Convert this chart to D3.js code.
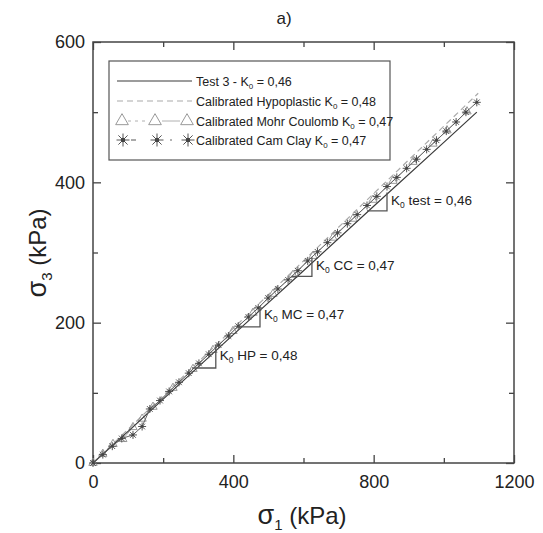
<!DOCTYPE html>
<html>
<head>
<script src="https://cdn.jsdelivr.net/npm/d3@7"></script>
<style>
  body { margin: 0; background: #fff; }
  svg text { font-family: "Liberation Sans", Arial, sans-serif; fill: #222; }
</style>
</head>
<body>
<div id="chart"></div>
<script>
// measured test (solid line)
const testS1 = [0, 100, 200, 400, 600, 800, 1000, 1094];
const testS3 = [0, 45, 91, 183, 274, 366, 457, 500];

// calibrated hypoplastic (dashed)
const hpS1 = [0, 200, 400, 600, 800, 1000, 1098];
const hpS3 = [0, 96, 192, 288, 384, 480, 527];

// calibrated Cam Clay (stars)
const ccS1 = [0, 28, 55, 82, 114, 140, 162, 191, 217, 245, 273, 302, 330, 358, 386, 414, 443, 471, 499,
  527, 556, 584, 612, 640, 668, 697, 725, 753, 781, 809, 838, 866, 894, 922, 951, 979, 1007, 1035, 1063, 1094];
const ccS3 = [0, 12, 24, 35, 40, 52, 77, 89, 102, 115, 128, 142, 155, 168, 181, 195, 208, 221, 235,
  248, 261, 274, 288, 301, 314, 328, 341, 354, 367, 380, 394, 407, 420, 433, 447, 460, 473, 486, 500, 514];

// calibrated Mohr Coulomb (triangles)
const mcS1 = [0, 28, 57, 85, 114, 140, 171, 228, 285, 342, 399, 456, 513, 570, 627, 684, 741, 798, 855, 912, 969, 1009, 1066];
const mcS3 = [0, 13, 27, 34, 51, 63, 80, 107, 134, 161, 188, 214, 241, 268, 295, 321, 348, 375, 402, 429, 455, 474, 501];

// K0 slope annotations
const annName = ["test", "CC", "MC", "HP"];
const annK = [0.46, 0.47, 0.47, 0.48];
const annText = ["0,46", "0,47", "0,47", "0,48"];
const annS1a = [781, 566, 413, 282];
const annS1b = [838, 624, 476, 350];

const legendLabels = ["Test 3 - K", "Calibrated Hypoplastic K", "Calibrated Mohr Coulomb K", "Calibrated Cam Clay K"];
const legendValues = ["0,46", "0,48", "0,47", "0,47"];

const W = 543, H = 533;
const svg = d3.select("#chart").append("svg").attr("width", W).attr("height", H);

const x = d3.scaleLinear().domain([0, 1200]).range([93, 514]);
const y = d3.scaleLinear().domain([0, 600]).range([463, 42]);

const axisColor = "#444";

// title
svg.append("text").attr("x", 284).attr("y", 24).attr("text-anchor", "middle")
  .style("font-size", "17px").text("a)");

// axes: major ticks with labels, minor ticks without, mirrored on top/right
function styleAxis(g) {
  g.select(".domain").remove();
  g.selectAll("line").attr("stroke", axisColor).attr("stroke-width", 1.3);
  g.selectAll("text").style("font-size", "18px").attr("fill", "#222");
}
const xMajor = [0, 400, 800, 1200], xMinor = [200, 600, 1000];
const yMajor = [0, 200, 400, 600], yMinor = [100, 300, 500];
const fmt = d3.format("d");

svg.append("g").attr("transform", `translate(0,${y(0)})`)
  .call(d3.axisBottom(x).tickValues(xMajor).tickFormat(fmt).tickSize(-8).tickPadding(12)).call(styleAxis);
svg.append("g").attr("transform", `translate(0,${y(0)})`)
  .call(d3.axisBottom(x).tickValues(xMinor).tickSize(-5).tickFormat("")).call(styleAxis);
svg.append("g").attr("transform", `translate(0,${y(600)})`)
  .call(d3.axisTop(x).tickValues(xMajor).tickSize(-8).tickFormat("")).call(styleAxis);
svg.append("g").attr("transform", `translate(0,${y(600)})`)
  .call(d3.axisTop(x).tickValues(xMinor).tickSize(-5).tickFormat("")).call(styleAxis);

svg.append("g").attr("transform", `translate(${x(0)},0)`)
  .call(d3.axisLeft(y).tickValues(yMajor).tickFormat(fmt).tickSize(-8).tickPadding(8)).call(styleAxis);
svg.append("g").attr("transform", `translate(${x(0)},0)`)
  .call(d3.axisLeft(y).tickValues(yMinor).tickSize(-5).tickFormat("")).call(styleAxis);
svg.append("g").attr("transform", `translate(${x(1200)},0)`)
  .call(d3.axisRight(y).tickValues(yMajor).tickSize(-8).tickFormat("")).call(styleAxis);
svg.append("g").attr("transform", `translate(${x(1200)},0)`)
  .call(d3.axisRight(y).tickValues(yMinor).tickSize(-5).tickFormat("")).call(styleAxis);

svg.append("rect").attr("x", x(0)).attr("y", y(600))
  .attr("width", x(1200) - x(0)).attr("height", y(0) - y(600))
  .attr("fill", "none").attr("stroke", axisColor).attr("stroke-width", 1.5);

// axis titles
const xt = svg.append("text").attr("x", 302).attr("y", 524).attr("text-anchor", "middle")
  .style("font-size", "24px");
xt.append("tspan").style("font-size", "27px").text("σ");
xt.append("tspan").attr("dy", 6).style("font-size", "15px").text("1");
xt.append("tspan").attr("dy", -6).text(" (kPa)");

const yt = svg.append("text").attr("transform", "translate(46,253) rotate(-90)")
  .attr("text-anchor", "middle").style("font-size", "24px");
yt.append("tspan").style("font-size", "27px").text("σ");
yt.append("tspan").attr("dy", 6).style("font-size", "15px").text("3");
yt.append("tspan").attr("dy", -6).text(" (kPa)");

// data lines
const line = d3.line().x(d => x(d[0])).y(d => y(d[1]));
const zip = (a, b) => a.map((v, i) => [v, b[i]]);

const plot = svg.append("g");

plot.append("path").datum(zip(hpS1, hpS3)).attr("d", line)
  .attr("fill", "none").attr("stroke", "#aaa").attr("stroke-width", 1.2).attr("stroke-dasharray", "6,4");

plot.append("path").datum(zip(mcS1, mcS3)).attr("d", line)
  .attr("fill", "none").attr("stroke", "#b0b0b0").attr("stroke-width", 1);

const tri = d3.symbol().type(d3.symbolTriangle).size(30);
plot.selectAll(".mc").data(zip(mcS1, mcS3)).enter().append("path")
  .attr("class", "mc").attr("d", tri)
  .attr("transform", d => `translate(${x(d[0])},${y(d[1])})`)
  .attr("fill", "#fff").attr("fill-opacity", 0).attr("stroke", "#999").attr("stroke-width", 1);

plot.append("path").datum(zip(testS1, testS3)).attr("d", line)
  .attr("fill", "none").attr("stroke", "#3a3a3a").attr("stroke-width", 1.2);

plot.append("path").datum(zip(ccS1, ccS3)).attr("d", line)
  .attr("fill", "none").attr("stroke", "#666").attr("stroke-width", 1);

function star(g, r) {
  [0, 45, 90, 135].forEach(a => {
    const rad = a * Math.PI / 180;
    g.append("line")
      .attr("x1", -r * Math.cos(rad)).attr("y1", -r * Math.sin(rad))
      .attr("x2", r * Math.cos(rad)).attr("y2", r * Math.sin(rad))
      .attr("stroke", "#555").attr("stroke-width", 1);
  });
  g.append("circle").attr("r", r * 0.35).attr("fill", "#444");
}
plot.selectAll(".cc").data(zip(ccS1, ccS3)).enter().append("g")
  .attr("class", "cc")
  .attr("transform", d => `translate(${x(d[0])},${y(d[1])})`)
  .each(function () { star(d3.select(this), 4); });

// K0 slope triangles
annName.forEach((name, i) => {
  const k = annK[i];
  const pa = [x(annS1a[i]), y(k * annS1a[i])];
  const pc = [x(annS1b[i]), y(k * annS1a[i])];
  const pb = [x(annS1b[i]), y(k * annS1b[i])];
  svg.append("path").attr("d", `M${pa}L${pc}L${pb}`)
    .attr("fill", "none").attr("stroke", "#555").attr("stroke-width", 1.3);
  const t = svg.append("text").attr("x", pc[0] + 4).attr("y", (pb[1] + pc[1]) / 2 + 3)
    .style("font-size", "13.5px");
  t.append("tspan").text("K");
  t.append("tspan").attr("dy", 3).style("font-size", "8.5px").text("0");
  t.append("tspan").attr("dy", -3).text(` ${name} = ${annText[i]}`);
});

// legend
const lg = svg.append("g");
lg.append("rect").attr("x", 109).attr("y", 61).attr("width", 281).attr("height", 99)
  .attr("fill", "#fff").attr("stroke", "#555").attr("stroke-width", 1.2);
const rowY = [81, 101, 121, 140];
const lx0 = 117, lx1 = 192;

lg.append("line").attr("x1", lx0).attr("x2", lx1).attr("y1", rowY[0]).attr("y2", rowY[0])
  .attr("stroke", "#3a3a3a").attr("stroke-width", 1.2);
lg.append("line").attr("x1", lx0).attr("x2", lx1).attr("y1", rowY[1]).attr("y2", rowY[1])
  .attr("stroke", "#aaa").attr("stroke-width", 1.2).attr("stroke-dasharray", "6,4");

const legTriX = [122, 155, 187];
lg.append("line").attr("x1", 128).attr("x2", 148).attr("y1", rowY[2]).attr("y2", rowY[2])
  .attr("stroke", "#b0b0b0").attr("stroke-dasharray", "3,4");
lg.append("line").attr("x1", 162).attr("x2", 180).attr("y1", rowY[2]).attr("y2", rowY[2])
  .attr("stroke", "#b0b0b0");
legTriX.forEach(cx => {
  lg.append("path").attr("d", d3.symbol().type(d3.symbolTriangle).size(70))
    .attr("transform", `translate(${cx},${rowY[2]})`)
    .attr("fill", "none").attr("stroke", "#999").attr("stroke-width", 1);
});

const legStarX = [123, 157, 188];
lg.append("line").attr("x1", 131).attr("x2", 136).attr("y1", rowY[3]).attr("y2", rowY[3])
  .attr("stroke", "#555");
lg.append("circle").attr("cx", 171).attr("cy", rowY[3]).attr("r", 0.8).attr("fill", "#555");
legStarX.forEach(cx => {
  star(lg.append("g").attr("transform", `translate(${cx},${rowY[3]})`), 6.5);
});

legendLabels.forEach((lab, i) => {
  const t = lg.append("text").attr("x", 196).attr("y", rowY[i] + 4.5).style("font-size", "12.5px");
  t.append("tspan").text(lab);
  t.append("tspan").attr("dy", 3).style("font-size", "8px").text("0");
  t.append("tspan").attr("dy", -3).text(` = ${legendValues[i]}`);
});
</script>
</body>
</html>
